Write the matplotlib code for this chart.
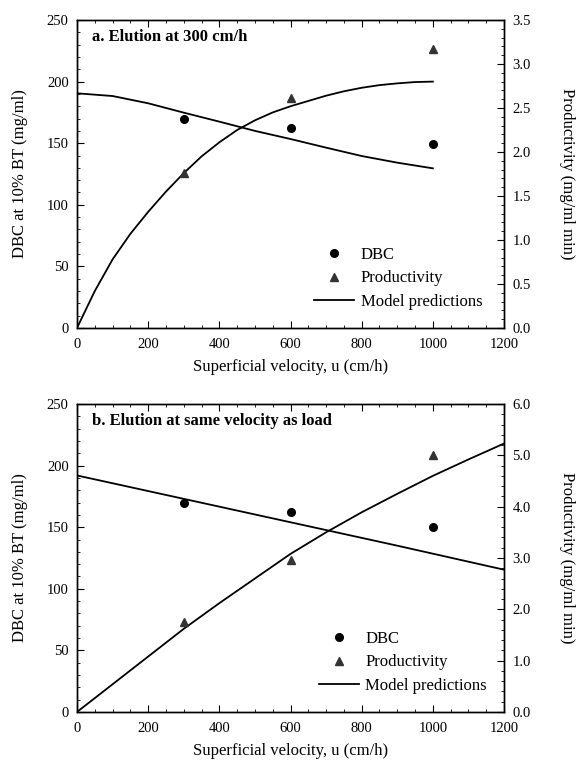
import numpy as np
import matplotlib
matplotlib.use("Agg")
import matplotlib.pyplot as plt
from matplotlib.ticker import MultipleLocator, FormatStrFormatter
from matplotlib.lines import Line2D

plt.rcParams['font.family'] = ['Liberation Serif', 'DejaVu Serif']

# ---- measured points ----
velocity = [300, 600, 1000]
dbc_a = [170, 162, 149]
prod_a = [1.76, 2.61, 3.17]
dbc_b = [170, 162, 150]
prod_b = [1.75, 2.97, 5.0]

# ---- model curves ----
u_dbc_a = [0, 100, 200, 300, 400, 500, 600, 700, 800, 900, 1000]
dbc_model_a = [190.5, 188.3, 182.4, 174.8, 167.5, 160, 153.4, 146.4, 139.6, 134.2, 129.6]
u_prod_a = [0, 50, 100, 150, 200, 250, 300, 350, 400, 450, 500,
            550, 600, 650, 700, 750, 800, 850, 900, 950, 1000]
prod_model_a = [0, 0.42, 0.78, 1.07, 1.32, 1.55, 1.76, 1.95, 2.11, 2.25, 2.36,
                2.45, 2.52, 2.58, 2.64, 2.69, 2.73, 2.76, 2.78, 2.795, 2.80]

u_dbc_b = [0, 300, 600, 900, 1200]
dbc_model_b = [192, 173, 154, 135, 115.5]
u_prod_b = [0, 100, 200, 300, 400, 500, 600, 700, 800, 900, 1000, 1100, 1200]
prod_model_b = [0, 0.54, 1.08, 1.62, 2.12, 2.6, 3.08, 3.5, 3.89, 4.25, 4.6, 4.92, 5.23]


def draw_panel(ax, title, dbc_pts, prod_pts, u_dbc, dbc_line, u_prod, prod_line,
               prod_max, prod_major, prod_minor, leg_anchor):
    ax2 = ax.twinx()
    ax.plot(u_dbc, dbc_line, color='black', lw=1.3)
    ax.plot(velocity, dbc_pts, 'o', color='black', ms=5.5)
    ax2.plot(u_prod, prod_line, color='black', lw=1.3)
    ax2.plot(velocity, prod_pts, '^', color='#333333', ms=6)

    ax.set_xlim(0, 1200)
    ax.set_ylim(0, 250)
    ax2.set_ylim(0, prod_max)
    ax.xaxis.set_major_locator(MultipleLocator(200))
    ax.xaxis.set_minor_locator(MultipleLocator(50))
    ax.yaxis.set_major_locator(MultipleLocator(50))
    ax.yaxis.set_minor_locator(MultipleLocator(10))
    ax2.yaxis.set_major_locator(MultipleLocator(prod_major))
    ax2.yaxis.set_minor_locator(MultipleLocator(prod_minor))
    ax2.yaxis.set_major_formatter(FormatStrFormatter('%.1f'))

    ax.tick_params(axis='x', which='both', direction='in', top=True, labelsize=10.5, pad=7)
    ax.tick_params(axis='y', which='both', direction='in', labelsize=10.5, pad=6)
    ax.tick_params(which='major', length=5)
    ax.tick_params(which='minor', length=2.5)
    ax2.tick_params(which='both', direction='in', labelsize=10.5, pad=6)
    ax2.tick_params(which='major', length=5)
    ax2.tick_params(which='minor', length=2.5)

    ax.set_xlabel('Superficial velocity, u (cm/h)', fontsize=12, labelpad=6)
    ax.set_ylabel('DBC at 10% BT (mg/ml)', fontsize=12)
    ax.yaxis.set_label_coords(-0.115, 0.5)
    ax2.set_ylabel('Productivity (mg/ml min)', fontsize=12, rotation=270, va='center')
    ax2.yaxis.set_label_coords(1.148, 0.5)

    ax.text(0.035, 0.945, title, transform=ax.transAxes, fontsize=12,
            fontweight='bold', va='center', ha='left')

    handles = [Line2D([], [], marker='o', ls='none', color='black', ms=5.5),
               Line2D([], [], marker='^', ls='none', color='#333333', ms=6),
               Line2D([], [], color='black', lw=1.3)]
    ax.legend(handles, ['DBC', 'Productivity', 'Model predictions'],
              loc='lower right', bbox_to_anchor=leg_anchor, frameon=False,
              fontsize=12, handlelength=2.4, labelspacing=0.45, handletextpad=0.4)
    for a in (ax, ax2):
        for s in a.spines.values():
            s.set_linewidth(1.0)


fig = plt.figure(figsize=(5.79, 7.64), dpi=100)
ax_a = fig.add_axes([0.133, 0.5707, 0.7375, 0.4031])
ax_b = fig.add_axes([0.133, 0.0681, 0.7375, 0.4031])

draw_panel(ax_a, 'a. Elution at 300 cm/h', dbc_a, prod_a, u_dbc_a, dbc_model_a,
           u_prod_a, prod_model_a, 3.5, 0.5, 0.1, (0.985, 0.01))
draw_panel(ax_b, 'b. Elution at same velocity as load', dbc_b, prod_b, u_dbc_b,
           dbc_model_b, u_prod_b, prod_model_b, 6.0, 1.0, 0.2, (0.995, 0.01))

fig.savefig('out.png', dpi=100)
